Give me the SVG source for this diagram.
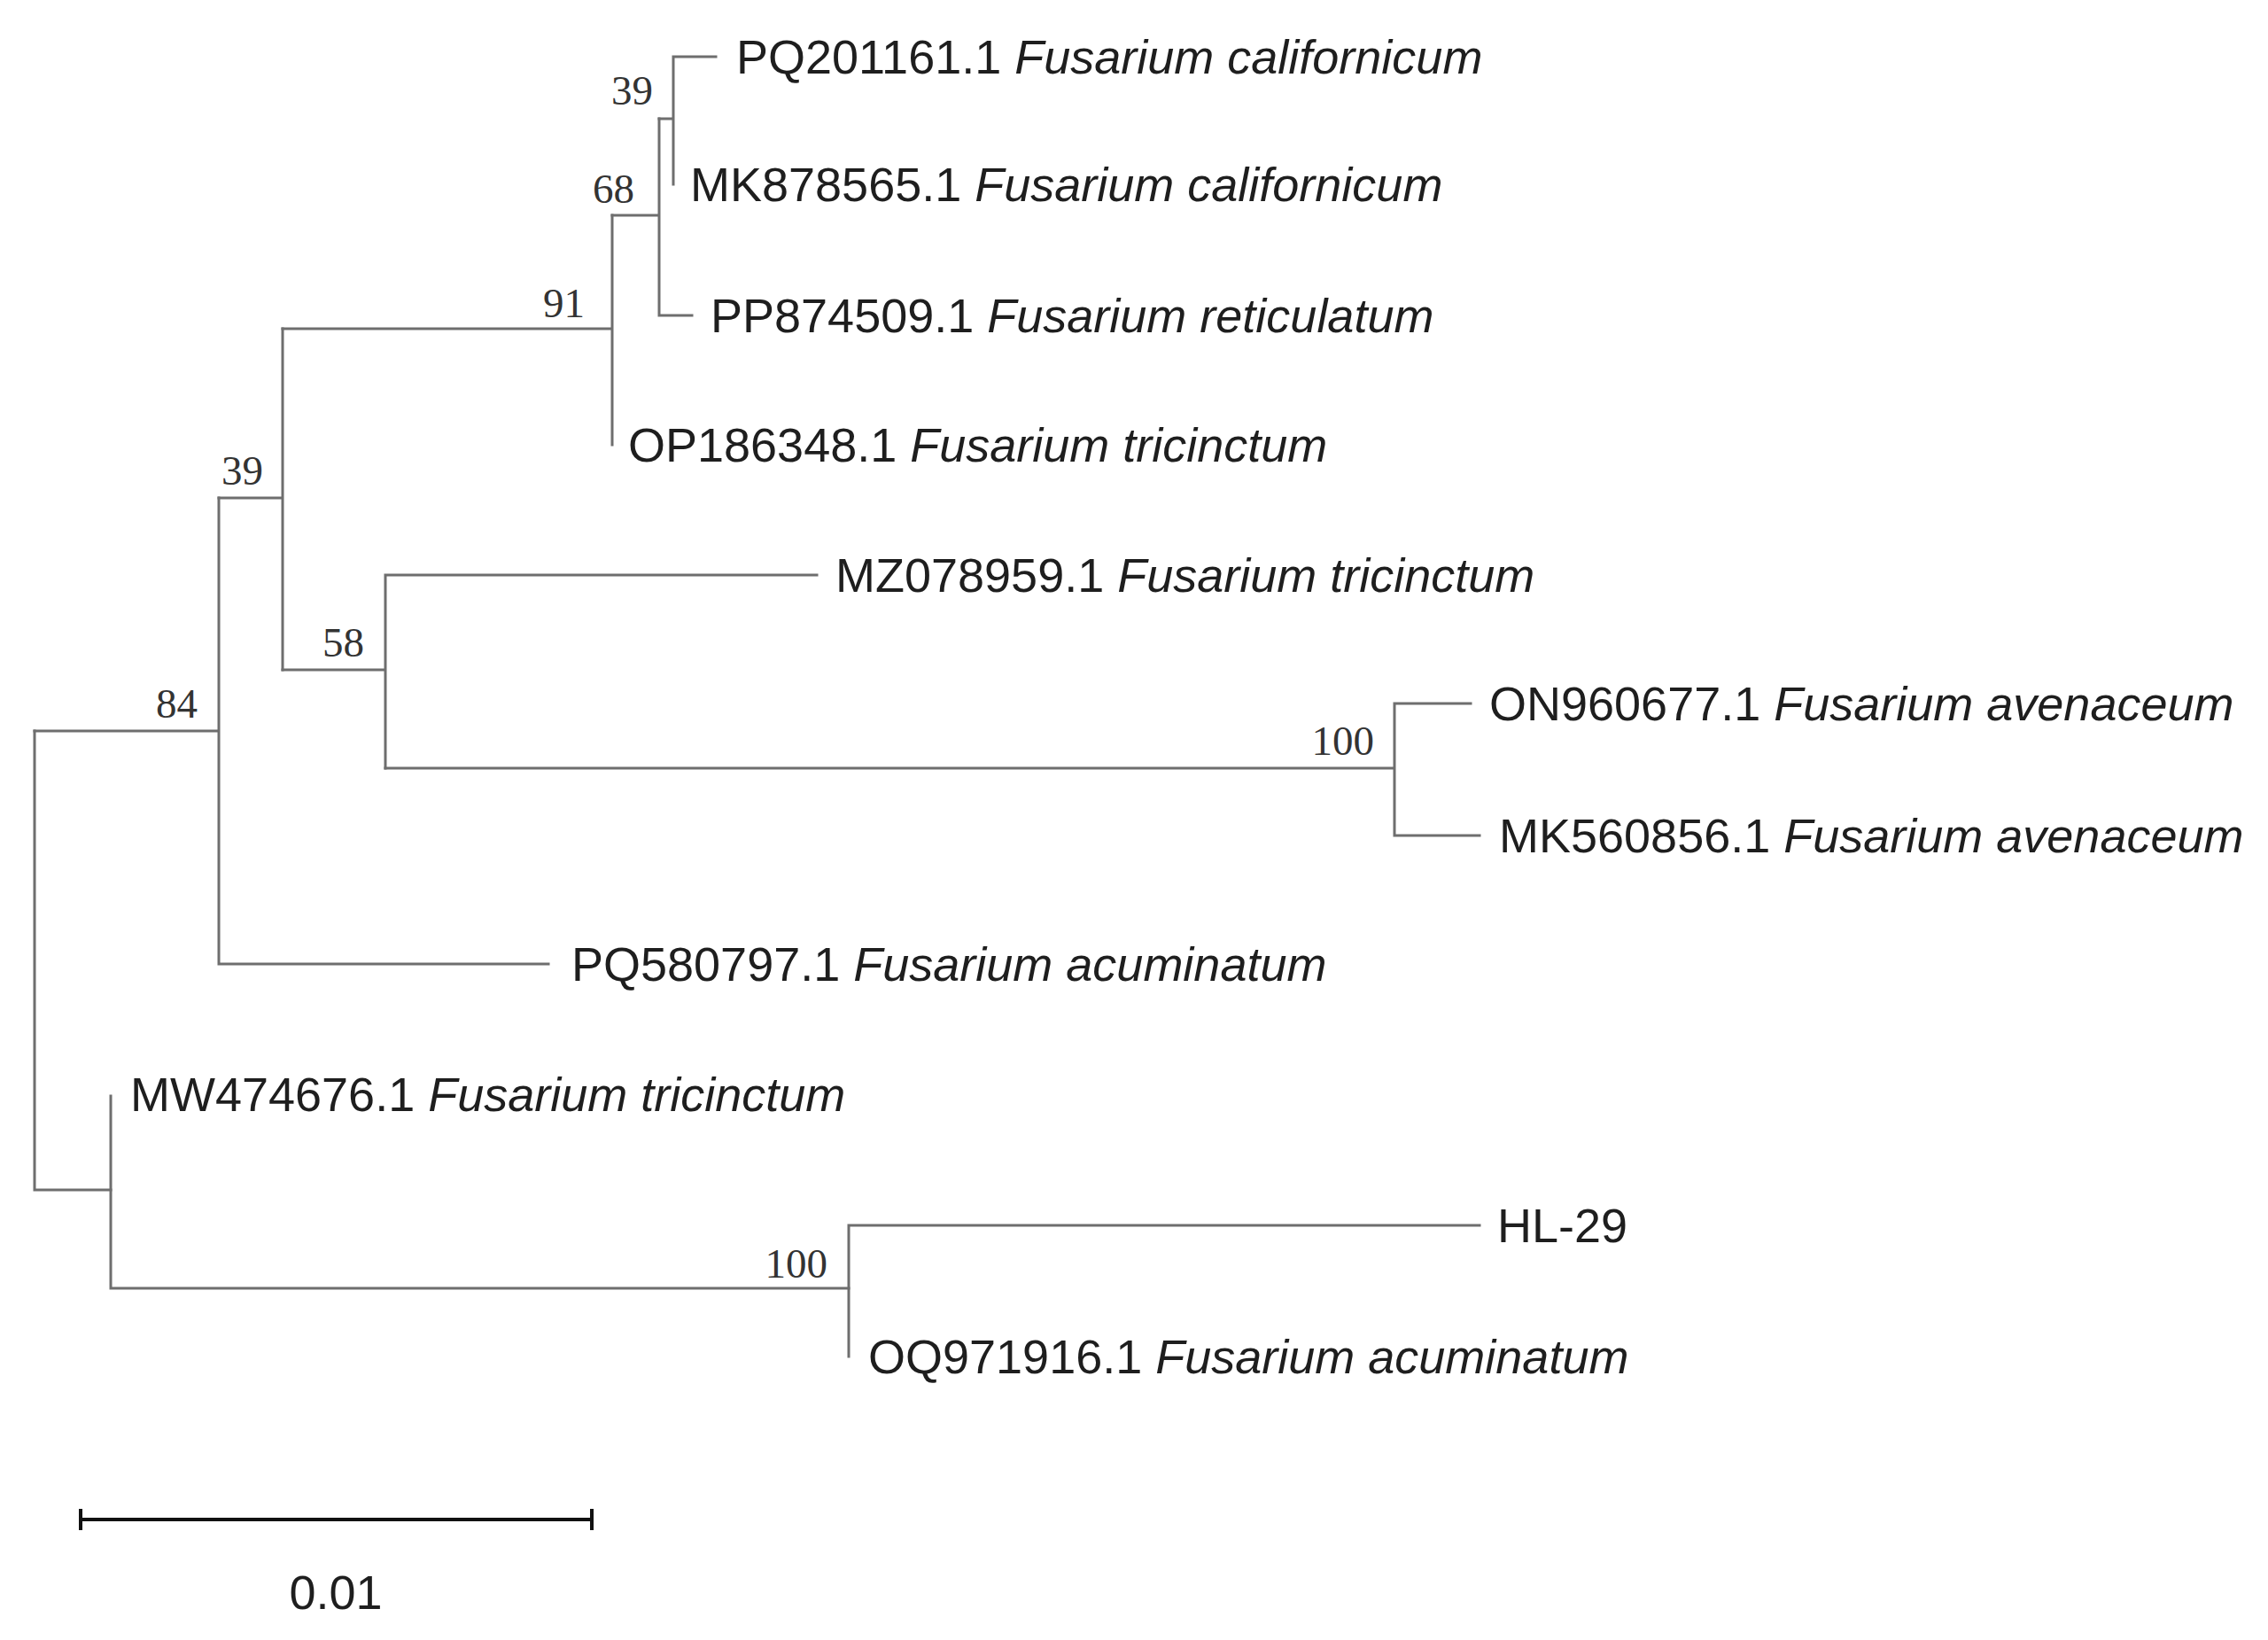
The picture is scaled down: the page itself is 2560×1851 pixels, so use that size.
<svg xmlns="http://www.w3.org/2000/svg" width="2560" height="1851" viewBox="0 0 2560 1851">
<style>
.br{fill:none;stroke:#6e6e6e;stroke-width:3;stroke-linecap:square}
.lf{font-family:"Liberation Sans",Arial,sans-serif;font-size:54px;fill:#1e1e1e}
.sp{font-style:italic}
.bs{font-family:"Liberation Serif","Times New Roman",serif;font-size:47px;fill:#333;text-anchor:end}
.sb{fill:none;stroke:#111;stroke-width:4}
</style>
<rect x="0" y="0" width="2560" height="1851" fill="#fff"/>
<g id="connectors">
<path class="br" d="M760 64V208M760 64H808M744 134H760"/>
<path class="br" d="M744 134V356M744 356H781M691 243H744"/>
<path class="br" d="M691 243V502M319 371H691"/>
<path class="br" d="M435 649V867M435 649H922M319 756H435"/>
<path class="br" d="M1574 794V943M1574 794H1660M1574 943H1670M435 867H1574"/>
<path class="br" d="M319 371V756M247 562H319"/>
<path class="br" d="M247 562V1088M247 1088H619M39 825H247"/>
<path class="br" d="M39 825V1343M39 1343H125"/>
<path class="br" d="M125 1237V1454M125 1454H958"/>
<path class="br" d="M958 1383V1531M958 1383H1670"/>
</g>
<g id="support">
<text class="bs" x="737" y="118">39</text>
<text class="bs" x="716" y="229">68</text>
<text class="bs" x="660" y="358">91</text>
<text class="bs" x="297" y="547">39</text>
<text class="bs" x="411" y="741">58</text>
<text class="bs" x="223" y="810">84</text>
<text class="bs" x="1551" y="852">100</text>
<text class="bs" x="934" y="1442">100</text>
</g>
<g id="leaf-PQ201161"><text class="lf" x="831" y="83">PQ201161.1 <tspan class="sp">Fusarium californicum</tspan></text></g>
<g id="leaf-MK878565"><text class="lf" x="779" y="227">MK878565.1 <tspan class="sp">Fusarium californicum</tspan></text></g>
<g id="leaf-PP874509"><text class="lf" x="802" y="375">PP874509.1 <tspan class="sp">Fusarium reticulatum</tspan></text></g>
<g id="leaf-OP186348"><text class="lf" x="709" y="521">OP186348.1 <tspan class="sp">Fusarium tricinctum</tspan></text></g>
<g id="leaf-MZ078959"><text class="lf" x="943" y="668">MZ078959.1 <tspan class="sp">Fusarium tricinctum</tspan></text></g>
<g id="leaf-ON960677"><text class="lf" x="1681" y="813">ON960677.1 <tspan class="sp">Fusarium avenaceum</tspan></text></g>
<g id="leaf-MK560856"><text class="lf" x="1692" y="962">MK560856.1 <tspan class="sp">Fusarium avenaceum</tspan></text></g>
<g id="leaf-PQ580797"><text class="lf" x="645" y="1107">PQ580797.1 <tspan class="sp">Fusarium acuminatum</tspan></text></g>
<g id="leaf-MW474676"><text class="lf" x="147" y="1254">MW474676.1 <tspan class="sp">Fusarium tricinctum</tspan></text></g>
<g id="leaf-HL29"><text class="lf" x="1690" y="1402">HL-29</text></g>
<g id="leaf-OQ971916"><text class="lf" x="980" y="1550">OQ971916.1 <tspan class="sp">Fusarium acuminatum</tspan></text></g>
<g id="scale-bar">
<path class="sb" d="M91 1715H668M91 1703V1727M668 1703V1727"/>
<text class="lf" x="379" y="1816" text-anchor="middle">0.01</text>
</g>
</svg>
